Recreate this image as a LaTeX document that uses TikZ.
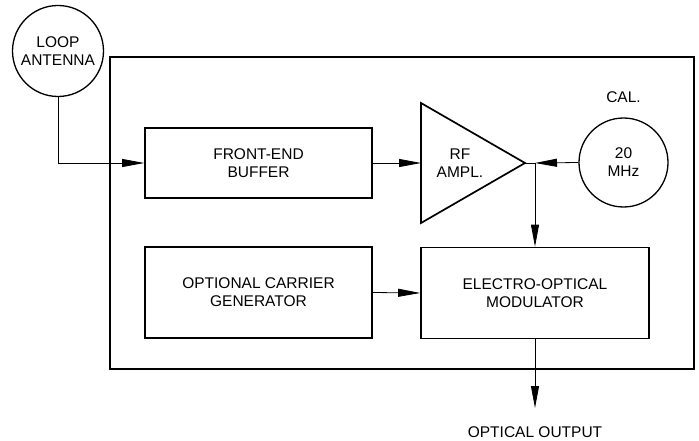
\documentclass[tikz,border=0pt]{standalone}
\usepackage{fontspec}
\setmainfont{Liberation Sans}
\usetikzlibrary{positioning}
\usetikzlibrary{arrows.meta}

\begin{document}
\begin{tikzpicture}[
    x=1pt, y=-1pt,
    font=\fontsize{15.5}{18}\selectfont,
    box/.style={rectangle, draw, line width=1.7pt, minimum width=227pt, align=center},
    disc/.style={circle, draw, line width=1.3pt, inner sep=0pt, align=center},
    arrow/.style={-{Triangle[length=22pt, width=8pt]}, line width=0.8pt},
    wire/.style={line width=0.8pt}
  ]
  \useasboundingbox (0,0) rectangle (699,441);

  % Housing
  \draw[line width=1.7pt] (110,57) rectangle (694,369);

  % Main workflow
  \node[disc, minimum size=91pt] (antenna) at (58,51) {LOOP\\ANTENNA};
  \node[box, minimum height=70pt] (buffer) at (258.5,163) {FRONT-END\\BUFFER};
  \node[box, minimum height=91pt] (carrier) at (258.5,292.5) {OPTIONAL CARRIER\\GENERATOR};
  \node[box, minimum width=228pt, minimum height=91pt] (modulator) at (535,293) {ELECTRO-OPTICAL\\MODULATOR};

  % RF amplifier
  \draw[line width=1.7pt] (421,103) -- (525,163) coordinate (ampout) -- (421,223) -- cycle;
  \coordinate (ampin) at (421,163);
  \node[align=center] (amp) at (460,163) {RF\\AMPL.};

  % Calibration source
  \node[disc, minimum size=89pt] (cal) at (623.5,162.5) {20\\MHz};
  \node[above=14pt of cal, inner sep=0pt] (callabel) {CAL.};
  \coordinate (tap) at (535,163);

  \draw[arrow] (antenna.south) |- (buffer.west);
  \draw[arrow] (buffer.east) -- (ampin);
  \draw[wire] (ampout) -- (tap);
  \draw[arrow] (cal.west) -- (tap);
  \draw[arrow] (tap) -- (modulator.north);
  \draw[arrow] (carrier.east) -- (modulator.west);

  % Output
  \node (output) at (535,432) {OPTICAL OUTPUT};
  \coordinate (outtip) at (535,408);
  \draw[arrow] (modulator.south) -- (outtip);

\end{tikzpicture}
\end{document}
